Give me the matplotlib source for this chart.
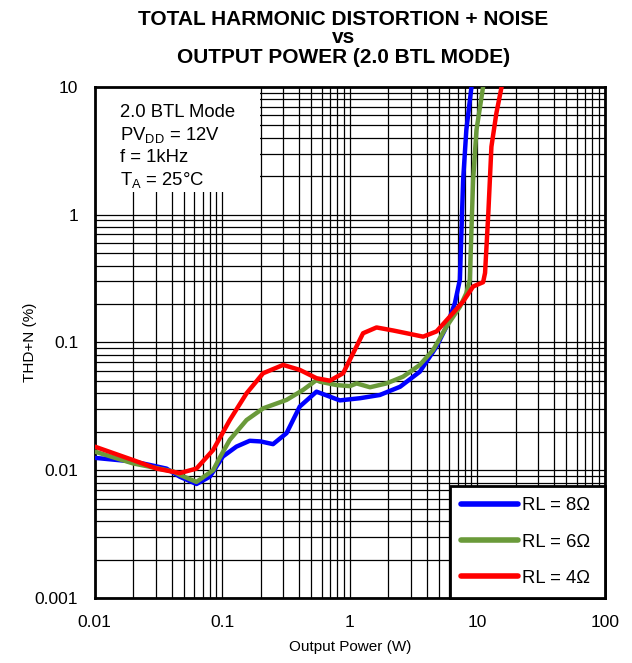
import matplotlib.pyplot as plt
from matplotlib.patches import Rectangle

plt.rcParams['font.family'] = ['Liberation Sans', 'DejaVu Sans']

# THD+N (%) vs output power (W)
p_8 = [0.01, 0.02, 0.027, 0.0365, 0.0464, 0.0627, 0.0798, 0.09, 0.101, 0.129,
       0.164, 0.2, 0.25, 0.319, 0.405, 0.548, 0.68, 0.835, 1.2, 1.72, 2.48,
       3.54, 4.79, 5.73, 6.67, 7.3, 7.74, 8.2, 9.0]
thd_8 = [0.0125, 0.0117, 0.011, 0.0103, 0.0089, 0.0078, 0.0089, 0.0107, 0.0128,
         0.0153, 0.017, 0.0168, 0.016, 0.0195, 0.0315, 0.0412, 0.038, 0.0352,
         0.0366, 0.0388, 0.045, 0.059, 0.093, 0.133, 0.203, 0.31, 1.87, 4.6, 10]

p_6 = [0.01, 0.02, 0.041, 0.0464, 0.0627, 0.0847, 0.0953, 0.1145, 0.155, 0.209,
       0.319, 0.43, 0.548, 0.582, 0.787, 1.0, 1.13, 1.44, 1.94, 2.62, 3.54,
       4.5, 5.73, 7.3, 8.2, 8.73, 9.27, 9.85, 11.1]
thd_6 = [0.014, 0.0113, 0.0098, 0.0092, 0.0081, 0.01, 0.0125, 0.0173, 0.0247,
         0.0305, 0.0355, 0.0425, 0.0508, 0.0493, 0.0464, 0.0455, 0.0478,
         0.0446, 0.0478, 0.054, 0.0667, 0.0873, 0.133, 0.19, 0.243, 0.31,
         1.87, 4.6, 10]

p_4 = [0.01, 0.02, 0.0305, 0.0464, 0.0627, 0.0847, 0.1145, 0.155, 0.209, 0.3,
       0.405, 0.548, 0.697, 0.886, 1.06, 1.27, 1.62, 2.19, 2.79, 3.76, 4.79,
       6.08, 7.74, 9.27, 11.1, 11.5, 12.2, 12.9, 14.1, 15.5]
thd_4 = [0.0153, 0.012, 0.0103, 0.0095, 0.0103, 0.0144, 0.0247, 0.04, 0.0574,
         0.0667, 0.061, 0.0525, 0.0502, 0.0574, 0.082, 0.118, 0.131, 0.124,
         0.118, 0.111, 0.122, 0.159, 0.209, 0.274, 0.296, 0.35, 1.03, 3.4,
         6.2, 10]

series = [
    (p_8, thd_8, '#0000ff', 'RL = 8Ω'),
    (p_6, thd_6, '#6a9a3a', 'RL = 6Ω'),
    (p_4, thd_4, '#ff0000', 'RL = 4Ω'),
]

fig = plt.figure(figsize=(6.32, 6.63), dpi=100)
ax = fig.add_axes([0.150, 0.098, 0.807, 0.771])

for x, y, c, lab in series:
    ax.plot(x, y, color=c, lw=3.2, label=lab, solid_joinstyle='round',
            solid_capstyle='round', zorder=3)

ax.set_xscale('log')
ax.set_yscale('log')
ax.set_xlim(0.01, 100)
ax.set_ylim(0.001, 10)
ax.set_xticks([0.01, 0.1, 1, 10, 100])
ax.set_xticklabels(['0.01', '0.1', '1', '10', '100'])
ax.set_yticks([0.001, 0.01, 0.1, 1, 10])
ax.set_yticklabels(['0.001', '0.01', '0.1', '1', '10'])
ax.tick_params(which='both', length=0, labelsize=12.5)
ax.tick_params(axis='x', pad=12)
ax.tick_params(axis='y', pad=12)
ax.grid(True, which='both', color='black', lw=0.9)
for s in ax.spines.values():
    s.set_linewidth(2)

ax.set_xlabel('Output Power (W)', fontsize=11)
ax.set_ylabel('THD+N (%)', fontsize=11)
ax.xaxis.set_label_coords(0.5, -0.082)
ax.yaxis.set_label_coords(-0.113, 0.5)

# condition box (hides grid behind it)
ax.add_patch(Rectangle((0, 0.795), 0.324, 0.205, transform=ax.transAxes,
                       facecolor='white', edgecolor='none', zorder=2.5))
cond = ['2.0 BTL Mode', r'PV$_{\mathregular{DD}}$ = 12V', 'f = 1kHz',
        r'T$_{\mathregular{A}}$ = 25°C']
for i, t in enumerate(cond):
    ax.text(0.049, 0.949 - i * 0.044, t, transform=ax.transAxes, fontsize=13.3,
            va='center', ha='left', zorder=4)

leg = ax.legend(loc='lower left', bbox_to_anchor=(0.696, 0, 0.304, 0.22),
                mode='expand', fontsize=13.3, frameon=True, fancybox=False,
                edgecolor='black', framealpha=1, borderaxespad=0,
                handlelength=3.1, labelspacing=1.05, borderpad=0.6,
                handletextpad=0.2)
leg.get_frame().set_linewidth(2)
for h in leg.get_lines():
    h.set_linewidth(4)

title_kw = dict(ha='center', va='baseline', fontsize=15, fontweight='bold')
fig.text(0.543, 0.962, 'TOTAL HARMONIC DISTORTION + NOISE', **title_kw)
fig.text(0.543, 0.935, 'vs', **title_kw)
fig.text(0.543, 0.905, 'OUTPUT POWER (2.0 BTL MODE)', **title_kw)

fig.savefig('out.png', dpi=100)
